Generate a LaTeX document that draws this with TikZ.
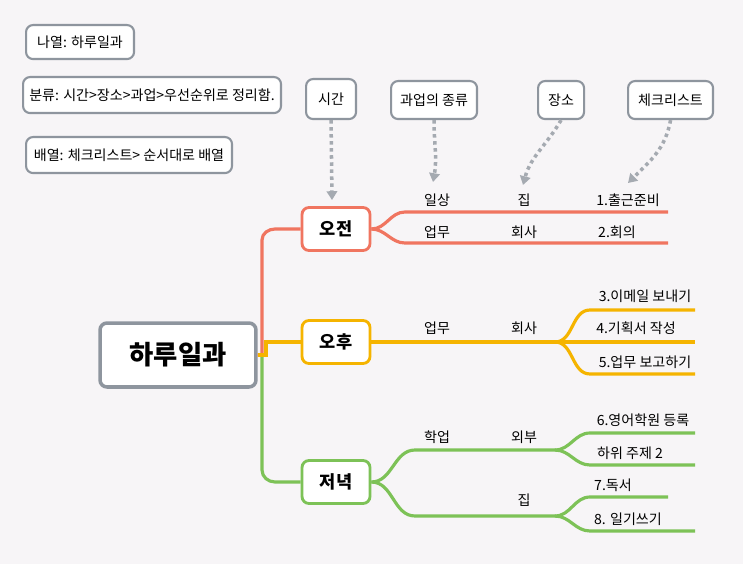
\documentclass[tikz,border=0pt]{standalone}
\usepackage{fontspec}
\setmainfont{Noto Sans CJK KR}
\usetikzlibrary{positioning, calc, arrows.meta}
\definecolor{bgc}{HTML}{F7F5F7}
\definecolor{amc}{HTML}{F07560}
\definecolor{pmc}{HTML}{F5B400}
\definecolor{evc}{HTML}{7DC257}
\definecolor{boxc}{HTML}{8E959E}
\tikzset{
    note/.style={rectangle, rounded corners=4pt, draw=boxc, line width=1.2pt, fill=white, font=\fontsize{8}{10}\selectfont, inner sep=0pt, anchor=north west},
    root/.style={rectangle, rounded corners=4pt, draw=boxc, line width=2pt, fill=white, font=\fontsize{15}{18}\selectfont\bfseries, minimum width=3.12cm, minimum height=1.28cm},
    topic/.style={rectangle, rounded corners=4pt, line width=1.6pt, fill=white, font=\fontsize{10}{12}\selectfont\bfseries, minimum width=1.36cm, minimum height=0.86cm},
    lbl/.style={font=\fontsize{8}{10}\selectfont, inner sep=1pt},
    branch/.style={line width=1.8pt},
    hint/.style={draw=boxc!80, line width=2pt, dotted, -{Triangle[length=5pt,width=6pt]}}
}
\begin{document}
\begin{tikzpicture}[x=0.02cm, y=-0.02cm]
    \fill[bgc] (0,0) rectangle (743,564);
    \useasboundingbox (0,0) rectangle (743,564);

    % --- NOTES ---
    \node (n1) [note, minimum width=2.16cm, minimum height=0.68cm] at (25,24) {나열: 하루일과};
    \node (n2) [note, minimum width=5.16cm, minimum height=0.72cm] at (22,76) {분류: 시간>장소>과업>우선순위로 정리함.};
    \node (n3) [note, minimum width=4.12cm, minimum height=0.72cm] at (25,136) {배열: 체크리스트> 순서대로 배열};

    \node (c1) [note, minimum width=1.0cm, minimum height=0.8cm] at (305,78) {시간};
    \node (c2) [note, minimum width=1.72cm, minimum height=0.76cm] at (390,80) {과업의 종류};
    \node (c3) [note, minimum width=0.92cm, minimum height=0.76cm] at (537,80) {장소};
    \node (c4) [note, minimum width=1.7cm, minimum height=0.76cm] at (627,80) {체크리스트};

    % --- MAIN ---
    \node (day) [root] at (178,355) {하루일과};
    \node (am) [topic, draw=amc] at (336,229) {오전};
    \node (pm) [topic, draw=pmc] at (336,342) {오후};
    \node (ev) [topic, draw=evc] at (336,482) {저녁};

    \draw [branch, amc] (day.east) -- (262,355) -- (262,240) to[out=90,in=180] (275,229) -- (am.west);
    \draw [branch, evc] (262,355) -- (262,470) to[out=-90,in=180] (275,482) -- (ev.west);
    \draw [branch, pmc] (day.east) -- (266,355) -- (266,342) -- (pm.west);

    % --- AM ---
    \draw [branch, amc] (am.east) to[out=0,in=180] (405,212) -- (668,212);
    \draw [branch, amc] (am.east) to[out=0,in=180] (405,243) -- (668,243);
    \node (a1) [lbl] at (437,200) {일상};
    \node (a2) [lbl] at (524,200) {집};
    \node (a3) [lbl] at (628,200) {1.출근준비};
    \node (a4) [lbl] at (437,232) {업무};
    \node (a5) [lbl] at (524,232) {회사};
    \node (a6) [lbl] at (617,232) {2.회의};

    % --- PM ---
    \coordinate (pmsplit) at (555,342);
    \draw [branch, pmc] (pm.east) -- (pmsplit) -- (695,342);
    \draw [branch, pmc] (pmsplit) to[out=0,in=180] (590,310) -- (695,310);
    \draw [branch, pmc] (pmsplit) to[out=0,in=180] (590,374) -- (695,374);
    \node (p1) [lbl] at (437,328) {업무};
    \node (p2) [lbl] at (524,328) {회사};
    \node (p3) [lbl] at (645,296) {3.이메일 보내기};
    \node (p4) [lbl] at (636,328) {4.기획서 작성};
    \node (p5) [lbl] at (645,362) {5.업무 보고하기};

    % --- EVENING ---
    \coordinate (evup) at (555,450);
    \coordinate (evdn) at (555,516);
    \draw [branch, evc] (ev.east) to[out=0,in=180] (415,450) -- (evup);
    \draw [branch, evc] (ev.east) to[out=0,in=180] (415,516) -- (evdn);
    \draw [branch, evc] (evup) to[out=0,in=180] (590,433) -- (695,433);
    \draw [branch, evc] (evup) to[out=0,in=180] (590,465) -- (695,465);
    \draw [branch, evc] (evdn) to[out=0,in=180] (590,497) -- (668,497);
    \draw [branch, evc] (evdn) to[out=0,in=180] (590,531) -- (695,531);
    \node (e1) [lbl] at (437,437) {학업};
    \node (e2) [lbl] at (524,437) {외부};
    \node (e3) [lbl] at (643,420) {6.영어학원 등록};
    \node (e4) [lbl] at (630,453) {하위 주제 2};
    \node (e5) [lbl] at (524,500) {집};
    \node (e6) [lbl] at (613,485) {7.독서};
    \node (e7) [lbl] at (628,519) {8. 일기쓰기};

    % --- HINT ARROWS ---
    \draw [hint] (c1.south) -- (332,200);
    \draw [hint] (c2.south) to[out=-90,in=80] (433,182);
    \draw [hint] (c3.south) to[out=-120,in=75] (523,185);
    \draw [hint] (c4.south) to[out=-100,in=45] (628,183);
\end{tikzpicture}
\end{document}
